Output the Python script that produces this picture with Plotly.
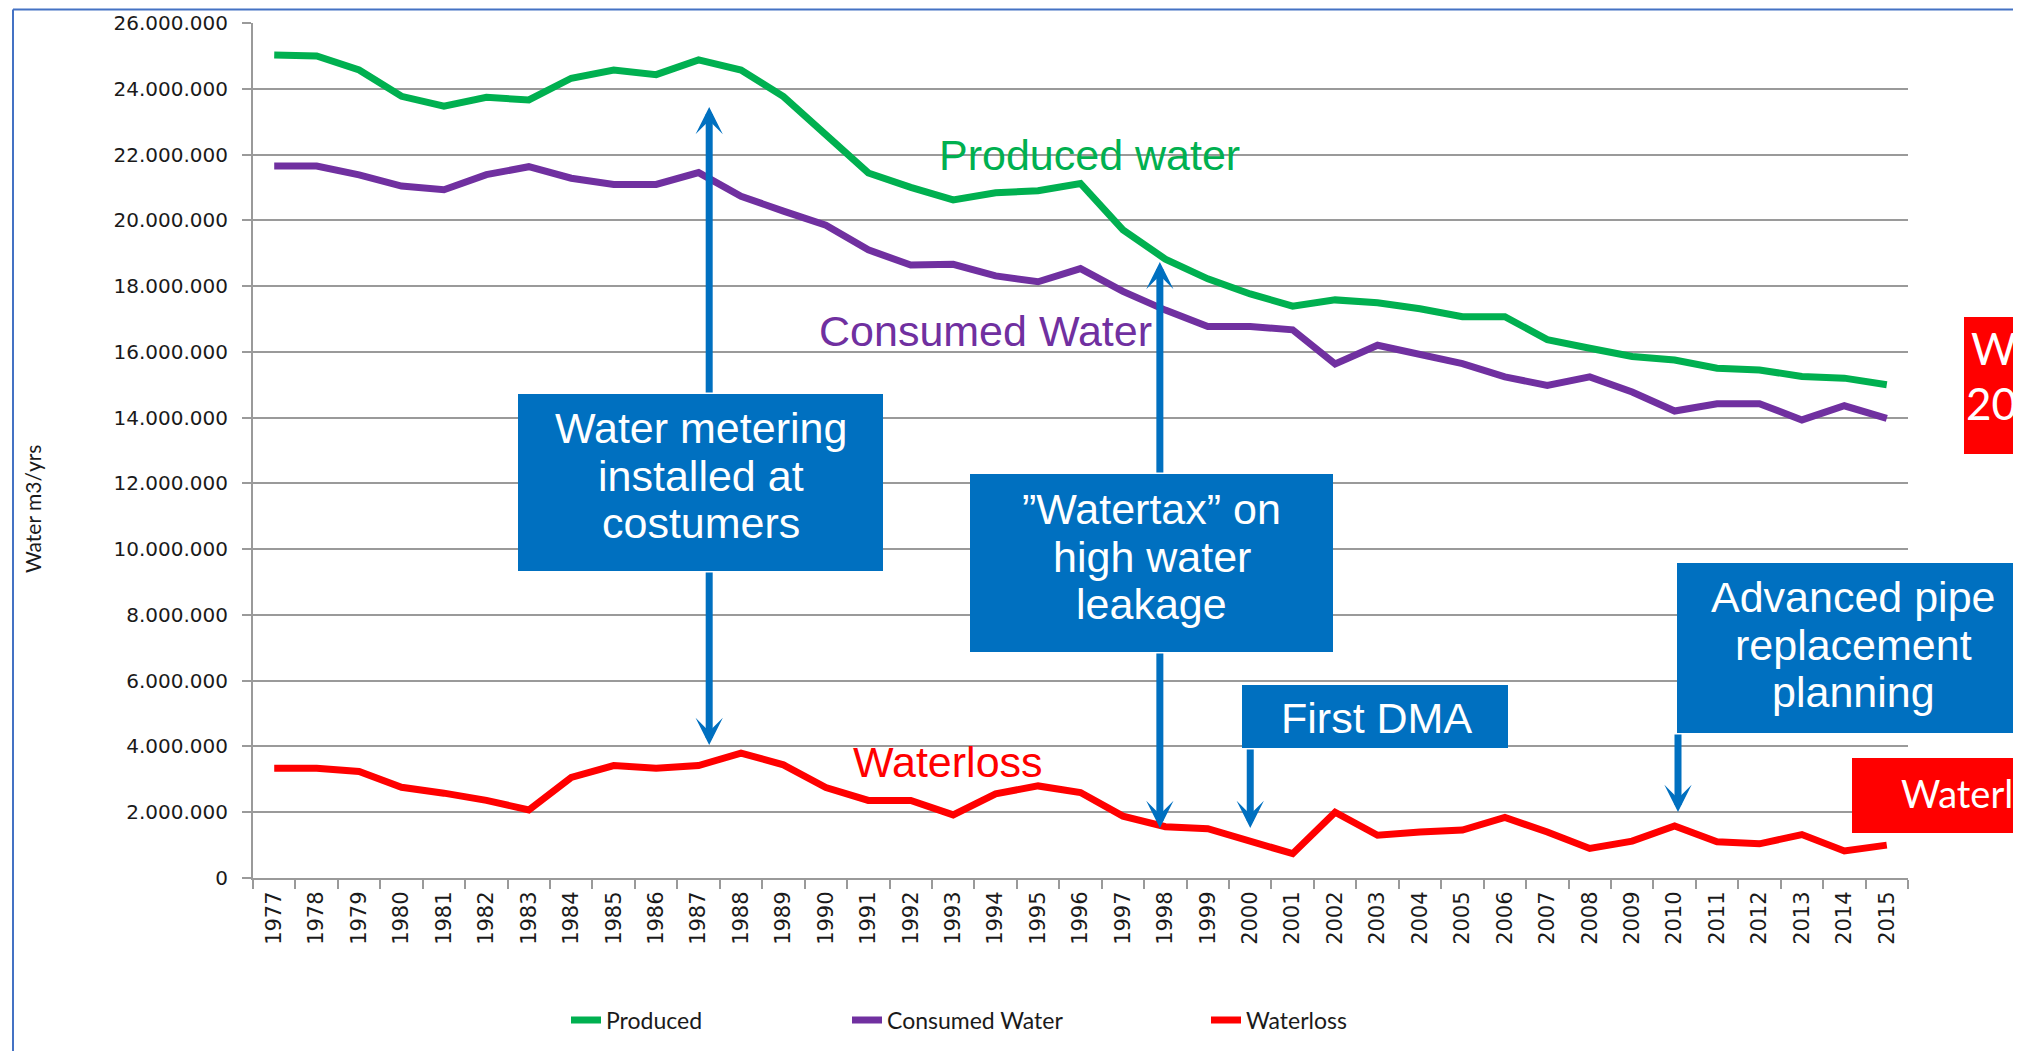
import plotly.graph_objects as go

# ---------------- data ----------------
years = [1977, 1978, 1979, 1980, 1981, 1982, 1983, 1984, 1985, 1986,
         1987, 1988, 1989, 1990, 1991, 1992, 1993, 1994, 1995, 1996,
         1997, 1998, 1999, 2000, 2001, 2002, 2003, 2004, 2005, 2006,
         2007, 2008, 2009, 2010, 2011, 2012, 2013, 2014, 2015]
year_labels = [str(y) for y in years]

produced = [25030000, 25000000, 24570000, 23770000, 23470000, 23740000, 23660000,
            24320000, 24570000, 24430000, 24880000, 24570000, 23760000, 22630000,
            21440000, 21000000, 20620000, 20840000, 20900000, 21120000, 19710000,
            18820000, 18220000, 17760000, 17390000, 17580000, 17490000, 17310000,
            17070000, 17070000, 16370000, 16110000, 15860000, 15750000, 15500000,
            15450000, 15250000, 15200000, 15000000]

consumed = [21650000, 21650000, 21380000, 21040000, 20930000, 21390000, 21630000,
            21280000, 21090000, 21090000, 21450000, 20730000, 20280000, 19850000,
            19100000, 18640000, 18660000, 18310000, 18130000, 18530000, 17840000,
            17270000, 16770000, 16770000, 16670000, 15630000, 16200000, 15900000,
            15640000, 15240000, 14980000, 15240000, 14780000, 14200000, 14420000,
            14420000, 13930000, 14360000, 13980000]

waterloss = [3340000, 3340000, 3240000, 2760000, 2580000, 2360000, 2070000,
             3060000, 3420000, 3340000, 3420000, 3800000, 3440000, 2750000,
             2360000, 2360000, 1920000, 2560000, 2800000, 2600000, 1880000,
             1560000, 1500000, 1100000, 740000, 2000000, 1300000, 1400000,
             1460000, 1840000, 1400000, 900000, 1120000, 1580000, 1100000,
             1040000, 1320000, 820000, 1000000]

y_ticks = [0, 2000000, 4000000, 6000000, 8000000, 10000000, 12000000, 14000000,
           16000000, 18000000, 20000000, 22000000, 24000000, 26000000]

# ---------------- layout geometry ----------------
# the page body has an 8px margin, so the figure is drawn 8px right/down
OFF = 8
W, H = 2021 - OFF, 1051 - OFF
PLOT_X0, PLOT_X1, PLOT_Y0, PLOT_Y1 = 253, 1908, 23, 878   # in screen pixels
L, R, T, B = PLOT_X0 - OFF, W - (PLOT_X1 - OFF), PLOT_Y0 - OFF, H - (PLOT_Y1 - OFF)
PW, PH = PLOT_X1 - PLOT_X0, PLOT_Y1 - PLOT_Y0
YMAX = 26000000


def xp(px):
    return (px - PLOT_X0) / PW


def yp(py):
    return (PLOT_Y1 - py) / PH


def yv(py):
    return yp(py) * YMAX


GREEN = "#00B050"
PURPLE = "#7030A0"
RED = "#FF0000"
BLUE = "#0070C0"
GRID = "#9a9a9a"
ARIAL = "Liberation Sans, Arial, sans-serif"
CAL = "Lato, Open Sans, sans-serif"
VERD = "DejaVu Sans, Verdana, sans-serif"

fig = go.Figure()
fig.add_trace(go.Scatter(x=years, y=produced, mode="lines", name="Produced",
                         line=dict(color=GREEN, width=7), legend="legend"))
fig.add_trace(go.Scatter(x=years, y=consumed, mode="lines", name="Consumed Water",
                         line=dict(color=PURPLE, width=7), legend="legend2"))
fig.add_trace(go.Scatter(x=years, y=waterloss, mode="lines", name="Waterloss",
                         line=dict(color=RED, width=7), legend="legend3"))

shapes = []
annotations = []


def box(x0, y0, x1, y1, color):
    shapes.append(dict(type="rect", xref="paper", yref="paper",
                       x0=xp(x0), x1=xp(x1), y0=yp(y1), y1=yp(y0),
                       fillcolor=color, line=dict(width=0), layer="above"))


def text(t, cx, cy, size, color, font=ARIAL, xanchor="center", angle=0):
    annotations.append(dict(text=t, xref="paper", yref="paper", x=xp(cx), y=yp(cy),
                            xanchor=xanchor, yanchor="middle", showarrow=False,
                            textangle=angle,
                            font=dict(family=font, size=size, color=color)))


def arrow(xyear, tip_py, tail_py):
    annotations.append(dict(text="", x=xyear, y=yv(tip_py), ax=xyear, ay=yv(tail_py),
                            xref="x", yref="y", axref="x", ayref="y", showarrow=True,
                            arrowhead=3, arrowsize=0.65, arrowwidth=7, arrowcolor=BLUE,
                            standoff=0, startstandoff=0))


# frame of the slide object
shapes.append(dict(type="line", xref="paper", yref="paper", x0=xp(13), x1=xp(2030),
                   y0=yp(9.5), y1=yp(9.5), line=dict(color="#4472C4", width=2)))
shapes.append(dict(type="line", xref="paper", yref="paper", x0=xp(13), x1=xp(13),
                   y0=yp(9.5), y1=yp(1060), line=dict(color="#4472C4", width=2)))

# blue annotation boxes
box(518, 394, 883, 571, BLUE)
for t, cy in zip(["Water metering", "installed at", "costumers"], [428, 476, 523]):
    text(t, 700.5, cy, 43, "white")
arrow(1987.25, 107, 394)
arrow(1987.25, 745, 571)

box(970, 474, 1333, 652, BLUE)
for t, cy in zip(["\u201dWatertax\u201d on", "high water", "leakage"], [509, 557, 604]):
    text(t, 1151.5, cy, 43, "white")
arrow(1997.87, 262, 474)
arrow(1997.87, 828, 652)

box(1242, 685, 1508, 748, BLUE)
text("First DMA", 1376, 718, 43, "white")
arrow(2000.0, 828, 748)

box(1677, 563, 2040, 733, BLUE)
for t, cy in zip(["Advanced pipe", "replacement", "planning"], [597, 645, 692]):
    text(t, 1853, cy, 43, "white")
arrow(2010.08, 812, 733)

# red boxes at the right edge (cut off in the original slide)
box(1964, 317, 2040, 454, RED)
text("W", 2019, 348, 44, "white", font=CAL, xanchor="right")
text("20", 2019, 403, 44, "white", font=CAL, xanchor="right")
box(1852, 758, 2040, 833, RED)
text("Waterl", 1899, 793, 38, "white", font=CAL, xanchor="left")

# series labels
text("Produced water", 1089, 155, 43, GREEN)
text("Consumed Water", 985, 331, 43, PURPLE)
text("Waterloss", 947.5, 762, 43, RED)

# y axis title
text("Water m3/yrs", 32, 509, 21, "#1a1a1a", font=CAL, angle=-90)

legend_common = dict(orientation="h", yanchor="middle", xanchor="left",
                     bgcolor="rgba(0,0,0,0)", font=dict(family=CAL, size=23, color="#1a1a1a"))

fig.update_layout(
    width=W, height=H,
    margin=dict(l=L, r=R, t=T, b=B, autoexpand=False),
    paper_bgcolor="white", plot_bgcolor="white",
    separators=",.",
    showlegend=True,
    legend=dict(x=xp(566), y=yp(1020), **legend_common),
    legend2=dict(x=xp(847), y=yp(1020), **legend_common),
    legend3=dict(x=xp(1206), y=yp(1020), **legend_common),
    shapes=shapes,
    annotations=annotations,
    xaxis=dict(
        range=[1976.5, 2015.5], tickmode="array", tickvals=years, ticktext=year_labels,
        tickangle=-90, ticks="", showgrid=False, zeroline=False,
        showline=True, linecolor=GRID, linewidth=2,
        tickfont=dict(family=VERD, size=21, color="#1a1a1a"), ticklabelstandoff=3,
        minor=dict(ticks="outside", tick0=1976.5, dtick=1, ticklen=9, tickwidth=2,
                   tickcolor=GRID, showgrid=False),
        automargin=False,
    ),
    yaxis=dict(
        range=[0, YMAX], tickmode="array", tickvals=y_ticks, tickformat=",d",
        showgrid=True, gridcolor=GRID, gridwidth=2, zeroline=False,
        showline=True, linecolor=GRID, linewidth=2,
        ticks="outside", ticklen=9, tickwidth=2, tickcolor=GRID,
        tickfont=dict(family=VERD, size=20, color="#1a1a1a"), ticklabelstandoff=10,
        automargin=False,
    ),
)

fig.write_html("out.html")
